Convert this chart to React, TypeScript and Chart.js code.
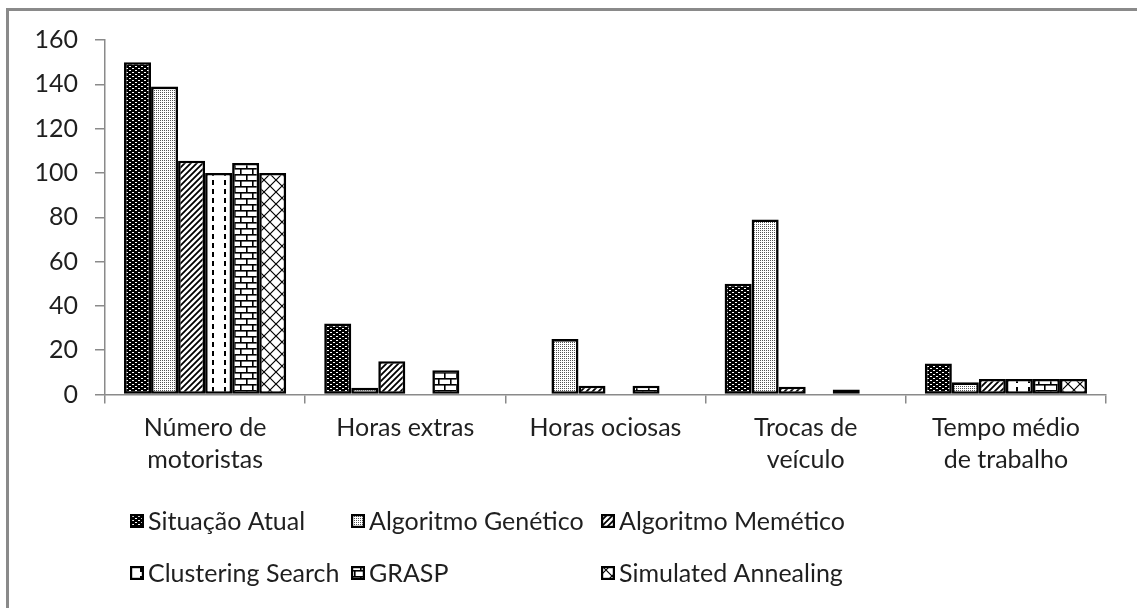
import React, { useEffect, useRef } from "react";
import { Chart, registerables } from "chart.js";

Chart.register(...registerables);

const categories: string[][] = [
  ["Número de", "motoristas"],
  ["Horas extras"],
  ["Horas ociosas"],
  ["Trocas de", "veículo"],
  ["Tempo médio", "de trabalho"],
];

const seriesNames = [
  "Situação Atual",
  "Algoritmo Genético",
  "Algoritmo Memético",
  "Clustering Search",
  "GRASP",
  "Simulated Annealing",
];

const situacaoAtual = [150, 32, 0, 50, 14];
const algoritmoGenetico = [139, 3, 25, 79, 5.5];
const algoritmoMemetico = [105.5, 15, 4, 3.5, 7];
const clusteringSearch = [100, 0, 0, 0, 7];
const grasp = [104.5, 11, 4, 2.3, 7];
const simulatedAnnealing = [100, 0, 0, 0, 7];

const seriesValues = [
  situacaoAtual,
  algoritmoGenetico,
  algoritmoMemetico,
  clusteringSearch,
  grasp,
  simulatedAnnealing,
];

const yTicks = [0, 20, 40, 60, 80, 100, 120, 140, 160];

const FONT = "Lato, 'Noto Sans', sans-serif";
const FONT_SIZE = 25;
const TEXT = "#1f1f1f";
const AXIS = "#8a8a8a";

function makePattern(w: number, h: number, draw: (ctx: CanvasRenderingContext2D) => void): CanvasPattern {
  const c = document.createElement("canvas");
  c.width = w;
  c.height = h;
  const ctx = c.getContext("2d")!;
  ctx.fillStyle = "#fff";
  ctx.fillRect(0, 0, w, h);
  ctx.fillStyle = "#000";
  ctx.strokeStyle = "#000";
  draw(ctx);
  return ctx.createPattern(c, "repeat")!;
}

function buildPatterns(): CanvasPattern[] {
  // 1: dark with white dashes
  const p1 = makePattern(6, 4, (ctx) => {
    ctx.fillRect(0, 0, 6, 4);
    ctx.fillStyle = "#fff";
    ctx.fillRect(0, 0, 2, 1);
    ctx.fillRect(3, 2, 2, 1);
  });
  // 2: light dotted
  const p2 = makePattern(2, 2, (ctx) => {
    ctx.fillStyle = "#555";
    ctx.fillRect(0, 0, 1, 1);
  });
  // 3: wide upward diagonal
  const p3 = makePattern(6, 6, (ctx) => {
    ctx.lineWidth = 1.8;
    ctx.beginPath();
    ctx.moveTo(-1, 7);
    ctx.lineTo(7, -1);
    ctx.moveTo(-4, 4);
    ctx.lineTo(4, -4);
    ctx.moveTo(2, 10);
    ctx.lineTo(10, 2);
    ctx.stroke();
  });
  // 4: dashed vertical
  const p4 = makePattern(12, 9, (ctx) => {
    ctx.fillRect(8, 0, 2, 5);
  });
  // 5: horizontal brick
  const p5 = makePattern(12, 12, (ctx) => {
    ctx.fillRect(0, 0, 12, 1.6);
    ctx.fillRect(0, 6, 12, 1.6);
    ctx.fillRect(0, 0, 1.6, 6);
    ctx.fillRect(6, 6, 1.6, 6);
  });
  // 6: large diagonal crosshatch
  const p6 = makePattern(12, 12, (ctx) => {
    ctx.lineWidth = 1.2;
    ctx.beginPath();
    ctx.moveTo(0, 0);
    ctx.lineTo(12, 12);
    ctx.moveTo(0, 12);
    ctx.lineTo(12, 0);
    ctx.stroke();
  });
  return [p1, p2, p3, p4, p5, p6];
}

const gridLegend = {
  id: "gridLegend",
  afterDraw(chart: any) {
    const { ctx, chartArea } = chart;
    const colOffsets = [25, 246, 496];
    const rowYs = [521, 573];
    ctx.save();
    ctx.font = `${FONT_SIZE}px ${FONT}`;
    ctx.textBaseline = "middle";
    ctx.textAlign = "left";
    chart.data.datasets.forEach((ds: any, i: number) => {
      const col = i % 3;
      const row = Math.floor(i / 3);
      const x = chartArea.left + colOffsets[col];
      const y = rowYs[row];
      const s = 14;
      ctx.fillStyle = ds.backgroundColor;
      ctx.fillRect(x, y - s / 2, s, s);
      ctx.lineWidth = 2.2;
      ctx.strokeStyle = "#000";
      ctx.strokeRect(x + 1.1, y - s / 2 + 1.1, s - 2.2, s - 2.2);
      ctx.fillStyle = TEXT;
      ctx.fillText(ds.label, x + s + 4, y + 1);
    });
    ctx.restore();
  },
};

export default function App() {
  const ref = useRef<HTMLCanvasElement>(null);

  useEffect(() => {
    const canvas = ref.current!;
    const patterns = buildPatterns();
    const chart = new Chart(canvas, {
      type: "bar",
      data: {
        labels: categories,
        datasets: seriesNames.map((name, i) => ({
          label: name,
          data: seriesValues[i],
          backgroundColor: patterns[i],
          borderColor: "#000",
          borderWidth: 2.6,
          borderSkipped: false,
          categoryPercentage: 0.81,
          barPercentage: 1.0,
        })),
      },
      options: {
        responsive: false,
        animation: false,
        layout: { padding: { top: 40, right: 31, left: 0, bottom: 0 } },
        plugins: {
          legend: { display: false },
          tooltip: { enabled: false },
        },
        scales: {
          x: {
            grid: {
              drawOnChartArea: false,
              drawTicks: true,
              tickLength: 9,
              color: AXIS,
              lineWidth: 1.5,
            },
            border: { display: true, color: AXIS, width: 1.5 },
            ticks: {
              color: TEXT,
              font: { family: FONT, size: FONT_SIZE, lineHeight: 1.26 },
              padding: 9,
              maxRotation: 0,
              autoSkip: false,
            },
            afterFit(scale: any) {
              scale.height = 213.5;
            },
          },
          y: {
            min: 0,
            max: 160,
            afterBuildTicks(scale: any) {
              scale.ticks = yTicks.map((v) => ({ value: v }));
            },
            grid: {
              drawOnChartArea: false,
              drawTicks: true,
              tickLength: 10,
              color: AXIS,
              lineWidth: 1.5,
            },
            border: { display: true, color: AXIS, width: 1.5 },
            ticks: {
              color: TEXT,
              font: { family: FONT, size: FONT_SIZE },
              padding: 17,
            },
            afterFit(scale: any) {
              scale.width = 105;
            },
          },
        },
      },
      plugins: [gridLegend],
    });
    return () => chart.destroy();
  }, []);

  return (
    <>
      <div
        style={{
          position: "fixed",
          left: 6,
          top: 8,
          width: 1140,
          height: 610,
          borderLeft: `3px solid ${AXIS}`,
          borderTop: `3px solid ${AXIS}`,
          background: "#fff",
        }}
      />
      <canvas
        ref={ref}
        width={1137}
        height={608}
        style={{ position: "fixed", left: 0, top: 0, width: 1137, height: 608 }}
      />
    </>
  );
}
